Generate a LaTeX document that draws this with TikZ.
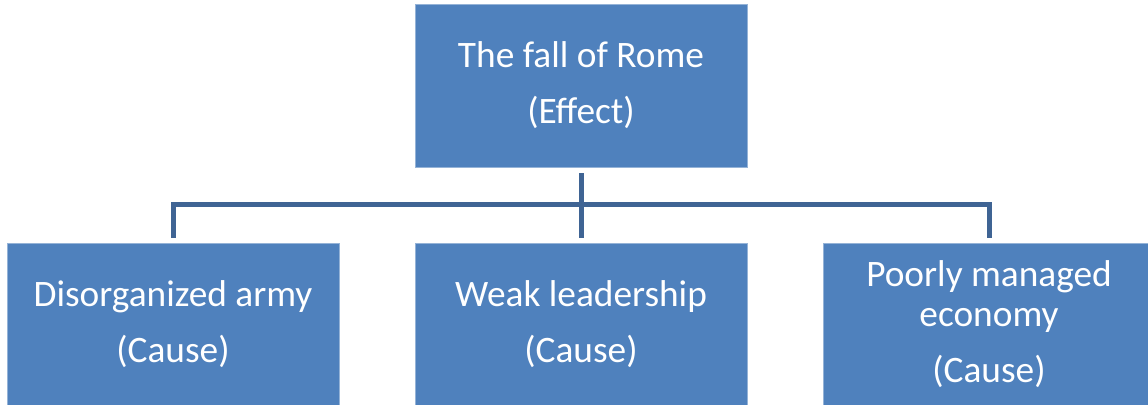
\documentclass[tikz,border=0pt]{standalone}
\usepackage{fontspec}
\setmainfont{Carlito}
\usepackage{tikz}

\definecolor{boxblue}{HTML}{4F81BD}
\definecolor{linkblue}{HTML}{3F6494}

\begin{document}
\begin{tikzpicture}[x=0.75pt, y=-0.75pt,
    box/.style={fill=boxblue, draw=boxblue!60!white, line width=0.4pt,
      minimum width=249pt, minimum height=122pt, inner sep=0pt,
      text=white, align=center,
      font=\fontsize{28pt}{30pt}\selectfont},
    link/.style={draw=linkblue, line width=3.75pt}]
  \useasboundingbox (0,0) rectangle (1148,404);

  \node[box] (fall) at (581,85.5) {The fall of Rome\\[12pt](Effect)};

  \node[box] (army) at (173,324.5) {Disorganized army\\[12pt](Cause)};
  \node[box] (weak) at (581,324.5) {Weak leadership\\[12pt](Cause)};
  \node[box] (economy) at (989,324.5) {Poorly managed\\economy\\[12pt](Cause)};

  % connectors
  \draw[link] ([yshift=-4.5pt]fall.south) -- ([yshift=3.75pt]weak.north);
  \draw[link] ([yshift=3.75pt]army.north) -- ++(0,-33) -| ([yshift=3.75pt]economy.north);
\end{tikzpicture}
\end{document}
